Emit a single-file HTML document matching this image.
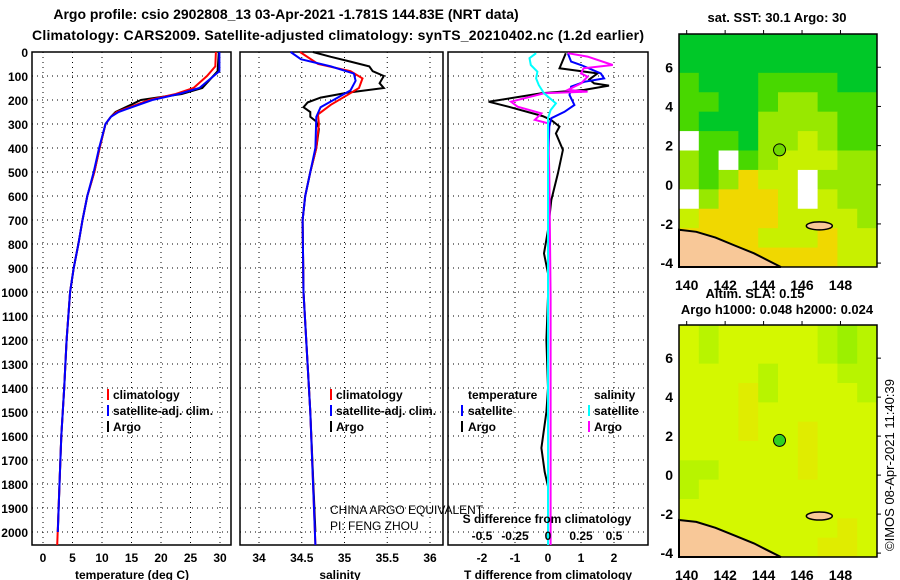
<!DOCTYPE html>
<html><head><meta charset="utf-8"><style>
body{margin:0;background:#fff;}
svg{display:block;font-family:"Liberation Sans",sans-serif;}
.b{font-weight:bold;}
</style></head><body>
<svg id="c" width="900" height="580" xmlns="http://www.w3.org/2000/svg">
<text x="286" y="19" text-anchor="middle" class="b" font-size="14">Argo profile: csio 2902808_13 03-Apr-2021 -1.781S 144.83E (NRT data)</text>
<text x="338" y="40" text-anchor="middle" class="b" font-size="14" textLength="612">Climatology: CARS2009. Satellite-adjusted climatology: synTS_20210402.nc (1.2d earlier)</text>
<g id="plots"></g>
</svg>
<script>
// ---------- data ----------
const depthTicks=[0,100,200,300,400,500,600,700,800,900,1000,1100,1200,1300,1400,1500,1600,1700,1800,1900,2000];
const tempTicks=[0,5,10,15,20,25,30];
const salTicks=[34,34.5,35,35.5,36];
const tdiffTicks=[-2,-1,0,1,2];
const sdiffTicks=[-0.5,-0.25,0,0.25,0.5];
const sdiffTickLabels=["-0.5","-0.25","0","0.25","0.5"];

const tArgoDepth=[0,80,150,175,200,250,270,300,400,500,600,700,800,900,1000,1200,1400,1600,1800,2000];
const tArgo=[29.8,29.6,27,23.5,16.6,12.3,11.5,10.6,9.6,8.7,7.5,6.7,6.0,5.2,4.6,4.0,3.6,3.1,2.8,2.5];
const tClimDepth=[0,60,100,150,175,200,250,270,300,400,500,600,700,800,900,1000,1200,1400,1600,1800,2054];
const tClim=[29.3,29.2,27.8,25.5,22.5,18.0,12.5,11.5,10.6,9.6,8.7,7.5,6.7,6.0,5.2,4.6,4.0,3.6,3.1,2.8,2.4];
const tSatDepth=[0,80,150,175,200,250,270,300,400,500,600,700,800,900,1000,1200,1400,1600,1800,2000];
const tSat=[29.9,29.9,26.5,23.0,18.5,12.8,11.5,10.6,9.5,8.6,7.5,6.7,6.0,5.2,4.6,4.0,3.6,3.1,2.8,2.5];

const sArgoDepth=[0,20,40,60,80,100,130,150,170,190,210,230,250,270,290,320,400,500,600,700,1000,1500,2000];
const sArgo=[34.63,34.84,35.07,35.29,35.33,35.46,35.41,35.46,35.03,34.72,34.57,34.52,34.6,34.6,34.67,34.70,34.67,34.60,34.54,34.51,34.52,34.6,34.66];
const sClimDepth=[0,50,80,110,150,180,220,260,300,400,500,600,700,1000,1500,2054];
const sClim=[34.48,34.69,35.07,35.21,35.17,35.03,34.84,34.69,34.70,34.67,34.60,34.54,34.51,34.52,34.6,34.66];
const sSatDepth=[0,30,60,90,120,160,190,230,270,400,500,600,700,1000,1500,2054];
const sSat=[34.37,34.49,34.84,35.11,35.13,35.07,34.92,34.72,34.67,34.66,34.60,34.54,34.51,34.52,34.6,34.66];

const dtArgoDepth=[5,54,68,89,114,131,140,158,172,207,228,267,283,311,339,408,506,617,742,839,922,1019,1200,1400,1500,1650,1750,1810];
const dtArgo=[0.54,0.39,0.35,1.5,1.25,1.4,1.85,1.1,-0.2,-1.8,-1.2,-0.16,0.09,0.35,0.24,0.45,0.3,0.1,0,-0.12,0,0,-0.05,0,-0.05,-0.2,-0.1,0];
const dtSatDepth=[5,40,54,89,110,124,144,179,221,249,276,311,506,1019,1500,2054];
const dtSat=[0.6,0.7,1.0,1.6,1.7,1.1,0.7,0.65,0.8,0.5,0.1,0.04,0,0,0,0];
const dsArgoDepth=[5,19,54,68,89,103,131,158,165,172,207,228,256,283,297,506,1019,1500,2054];
const dsArgo=[0.15,0.3,0.49,0.27,0.25,0.3,0.25,0.15,0.3,-0.03,-0.28,-0.23,-0.05,-0.1,0,0.01,0.02,0.02,0.02];
const dsSatDepth=[5,26,54,82,110,138,172,214,242,276,1019,2054];
const dsSat=[-0.09,-0.14,-0.13,-0.08,-0.09,-0.07,-0.03,0.06,0.02,0,0,0];

// SST map codes (rows lat 7.7 -> -4.2, cols lon 139.6 -> 149.9), -1 = missing
const sstGrid=[
[0,0,0,0,0,0,0,0,0,0],
[0,0,0,0,0,0,0,0,0,0],
[1,0,0,0,1,1,1,1,0,0],
[1,1,0,0,1,2,2,1,1,1],
[1,0,0,0,2,2,2,2,1,1],
[-1,1,1,0,2,2,3,2,1,1],
[2,1,-1,1,2,3,3,3,2,2],
[2,1,2,4,3,3,-1,2,2,2],
[-1,2,4,4,4,3,-1,3,2,2],
[3,4,4,4,4,3,3,3,3,2],
[4,4,4,4,3,3,3,4,3,3],
[4,4,4,4,4,4,4,4,3,3]];
const slaGrid=[
[0,1,0,0,0,0,0,1,2,1],
[0,1,0,0,0,0,0,1,2,1],
[0,0,0,0,1,0,0,0,1,1],
[0,0,0,3,1,0,0,0,0,1],
[0,0,0,3,0,0,0,0,0,0],
[0,0,0,3,0,0,3,0,0,0],
[0,0,0,0,0,0,3,0,0,0],
[1,1,0,0,0,0,3,0,0,0],
[1,0,0,0,0,0,0,0,0,0],
[0,0,0,0,0,0,0,0,0,0],
[0,0,0,0,0,0,0,0,3,0],
[0,0,0,0,0,0,0,3,3,0]];
const mapLonTicks=[140,142,144,146,148];
const mapLatTicks=[6,4,2,0,-2,-4];
const argoLon=144.83, argoLat=1.78;
const coastLon=[139.6,140.5,141.5,142.5,143.5,144.3,144.9];
const coastLat=[-2.3,-2.4,-2.7,-3.1,-3.5,-3.9,-4.2];

// ---------- helpers ----------
const NS="http://www.w3.org/2000/svg";
const root=document.getElementById('plots');
function mk(tag,attrs,parent){const e=document.createElementNS(NS,tag);for(const k in attrs)e.setAttribute(k,attrs[k]);(parent||root).appendChild(e);return e;}
const Y0=52,Y1=545;
const yD=d=>Y0+d*0.24;
const xT=t=>43+t*5.9;
const xS=s=>259+(s-34)*85.5;
const xDT=t=>548+t*33;
const xDS=s=>548+s*132;

function panel(x0,x1,name){
  const r=mk('rect',{x:x0,y:Y0,width:x1-x0,height:Y1-Y0,fill:'none',stroke:'#000','stroke-width':1.5});
  
  
  depthTicks.forEach(d=>{
    const l=mk('line',{x1:x0,x2:x1,y1:yD(d),y2:yD(d),stroke:'#000','stroke-dasharray':'1,4'});
    
    
  });
}
function vgrid(vals,fx,name){
  vals.forEach(v=>{
    const l=mk('line',{x1:fx(v),x2:fx(v),y1:Y0,y2:Y1,stroke:'#000','stroke-dasharray':'1,4'});
    
    
  });
}
function series(depths,vals,fx,color,name){
  const p=depths.map((d,i)=>fx(vals[i]).toFixed(1)+','+yD(Math.min(d,2054)).toFixed(1)).join(' ');
  const l=mk('polyline',{points:p,fill:'none',stroke:color,'stroke-width':2});
  
  
}
function text(x,y,s,opt,name){
  const t=mk('text',Object.assign({x:x,y:y,'font-size':12,'font-weight':'bold'},opt||{}));
  t.textContent=s;
  
  
  return t;
}
function legendBar(x,y,color,name){
  const r=mk('rect',{x:x,y:y-10,width:2,height:11,fill:color});
  
  
}

// ---------- panel 1 temperature ----------
panel(32,231,'temperature-panel');
vgrid(tempTicks,xT,'temperature');
depthTicks.forEach(d=>text(28,yD(d)+5,String(d),{'text-anchor':'end'},'depth-tick-label'));
tempTicks.forEach(t=>text(xT(t),562,String(t),{'text-anchor':'middle'},'temperature-tick-label'));
text(132,579,'temperature (deg C)',{'text-anchor':'middle'},'temperature-axis-title');
series(tArgoDepth,tArgo,xT,'#000','argo-temperature-line');
series(tClimDepth,tClim,xT,'#f00','climatology-temperature-line');
series(tSatDepth,tSat,xT,'#00f','satellite-temperature-line');
legendBar(107,399,'#f00','legend-climatology-swatch');
text(113,399,'climatology',{},'legend-climatology');
legendBar(107,415,'#00f','legend-satellite-swatch');
text(113,415,'satellite-adj. clim.',{},'legend-satellite');
legendBar(107,431,'#000','legend-argo-swatch');
text(113,431,'Argo',{},'legend-argo');

// ---------- panel 2 salinity ----------
panel(240,443,'salinity-panel');
vgrid(salTicks,xS,'salinity');
salTicks.forEach(s=>text(xS(s),562,String(s),{'text-anchor':'middle'},'salinity-tick-label'));
text(340,579,'salinity',{'text-anchor':'middle'},'salinity-axis-title');
series(sArgoDepth,sArgo,xS,'#000','argo-salinity-line');
series(sClimDepth,sClim,xS,'#f00','climatology-salinity-line');
series(sSatDepth,sSat,xS,'#00f','satellite-salinity-line');
legendBar(330,399,'#f00','legend-climatology-swatch');
text(336,399,'climatology',{},'legend-climatology');
legendBar(330,415,'#00f','legend-satellite-swatch');
text(336,415,'satellite-adj. clim.',{},'legend-satellite');
legendBar(330,431,'#000','legend-argo-swatch');
text(336,431,'Argo',{},'legend-argo');
text(330,514,'CHINA ARGO EQUIVALENT',{'font-weight':'normal'},'credit-line-1');
text(330,530,'PI: FENG ZHOU',{'font-weight':'normal'},'credit-line-2');

// ---------- panel 3 differences ----------
panel(448,648,'difference-panel');
vgrid(tdiffTicks,xDT,'tdiff');
tdiffTicks.forEach(t=>text(xDT(t),562,String(t),{'text-anchor':'middle'},'tdiff-tick-label'));
text(548,579,'T difference from climatology',{'text-anchor':'middle'},'tdiff-axis-title');
series(dtArgoDepth,dtArgo,xDT,'#000','argo-tdiff-line');
series(dtSatDepth,dtSat,xDT,'#00f','satellite-tdiff-line');
series(dsArgoDepth,dsArgo,xDS,'#f0f','argo-sdiff-line');
series(dsSatDepth,dsSat,xDS,'#0ff','satellite-sdiff-line');
text(547,523,'S difference from climatology',{'text-anchor':'middle'},'sdiff-axis-title');
sdiffTicks.forEach((s,i)=>text(xDS(s),540,sdiffTickLabels[i],{'text-anchor':'middle'},'sdiff-tick-label'));
text(468,399,'temperature',{},'legend-temperature-header');
text(594,399,'salinity',{},'legend-salinity-header');
legendBar(461,415,'#00f','legend-t-satellite-swatch');
text(468,415,'satellite',{},'legend-t-satellite');
legendBar(461,431,'#000','legend-t-argo-swatch');
text(468,431,'Argo',{},'legend-t-argo');
legendBar(588,415,'#0ff','legend-s-satellite-swatch');
text(594,415,'satellite',{},'legend-s-satellite');
legendBar(588,431,'#f0f','legend-s-argo-swatch');
text(594,431,'Argo',{},'legend-s-argo');

// ---------- maps ----------
const sstColors={'-1':'#ffffff','0':'#00c828','1':'#48d800','2':'#98e800','3':'#c8f000','4':'#f0d800'};
const slaColors={'0':'#d4f800','1':'#b8f400','2':'#9cf000','3':'#e0ec00'};
function drawMap(top,bottom,grid,colors,name){
  const X0=679,X1=877,lon0=139.6,lon1=149.9,lat0=7.7,lat1=-4.2;
  const fx=lon=>X0+(lon-lon0)/(lon1-lon0)*(X1-X0);
  const fy=lat=>top+(lat0-lat)/(lat0-lat1)*(bottom-top);
  const nr=grid.length,nc=grid[0].length,cw=(X1-X0)/nc,ch=(bottom-top)/nr;
  grid.forEach((row,i)=>row.forEach((v,j)=>{
    const r=mk('rect',{x:X0+j*cw,y:top+i*ch,width:cw+0.5,height:ch+0.5,fill:colors[String(v)]});
    
    
  }));
  let pts=coastLon.map((lo,i)=>fx(lo).toFixed(1)+','+fy(coastLat[i]).toFixed(1)).join(' ');
  const land=mk('polygon',{points:pts+' '+X0+','+bottom,fill:'#f8c898',stroke:'#000','stroke-width':2});
  
  
  const isl=mk('ellipse',{cx:fx(146.9),cy:fy(-2.1),rx:13,ry:4,fill:'#f8c898',stroke:'#000','stroke-width':1.5});
  
  
  const fr=mk('rect',{x:X0,y:top,width:X1-X0,height:bottom-top,fill:'none',stroke:'#000','stroke-width':1.5});
  
  
  mapLatTicks.forEach(l=>{
    text(673,fy(l)+5,String(l),{'text-anchor':'end','font-size':14},name+'-lat-label');
    mk('line',{x1:X1,x2:X1+4,y1:fy(l),y2:fy(l),stroke:'#000'});
  });
  mapLonTicks.forEach(l=>{
    text(fx(l),bottom+23,String(l),{'text-anchor':'middle','font-size':14},name+'-lon-label');
    mk('line',{x1:fx(l),x2:fx(l),y1:top,y2:top-4,stroke:'#000'});
  });
  return {fx,fy};
}
const m1=drawMap(34,267,sstGrid,sstColors,'sst-map');
const a1=mk('circle',{cx:m1.fx(argoLon),cy:m1.fy(argoLat),r:6,fill:'#70d800',stroke:'#000','stroke-width':1});


const m2=drawMap(325,557,slaGrid,slaColors,'sla-map');
const a2=mk('circle',{cx:m2.fx(argoLon),cy:m2.fy(argoLat),r:6,fill:'#30d020',stroke:'#000','stroke-width':1});


text(777,22,'sat. SST: 30.1 Argo: 30',{'text-anchor':'middle','font-size':13},'sst-map-title');
text(755,298,'Altim. SLA: 0.15',{'text-anchor':'middle','font-size':13},'sla-map-title');
text(777,314,'Argo h1000: 0.048 h2000: 0.024',{'text-anchor':'middle','font-size':13},'sla-map-subtitle');
text(894,465,'©IMOS 08-Apr-2021 11:40:39',{'text-anchor':'middle','font-weight':'normal','font-size':13,transform:'rotate(-90 894 465)'},'timestamp');
</script>
</body></html>
